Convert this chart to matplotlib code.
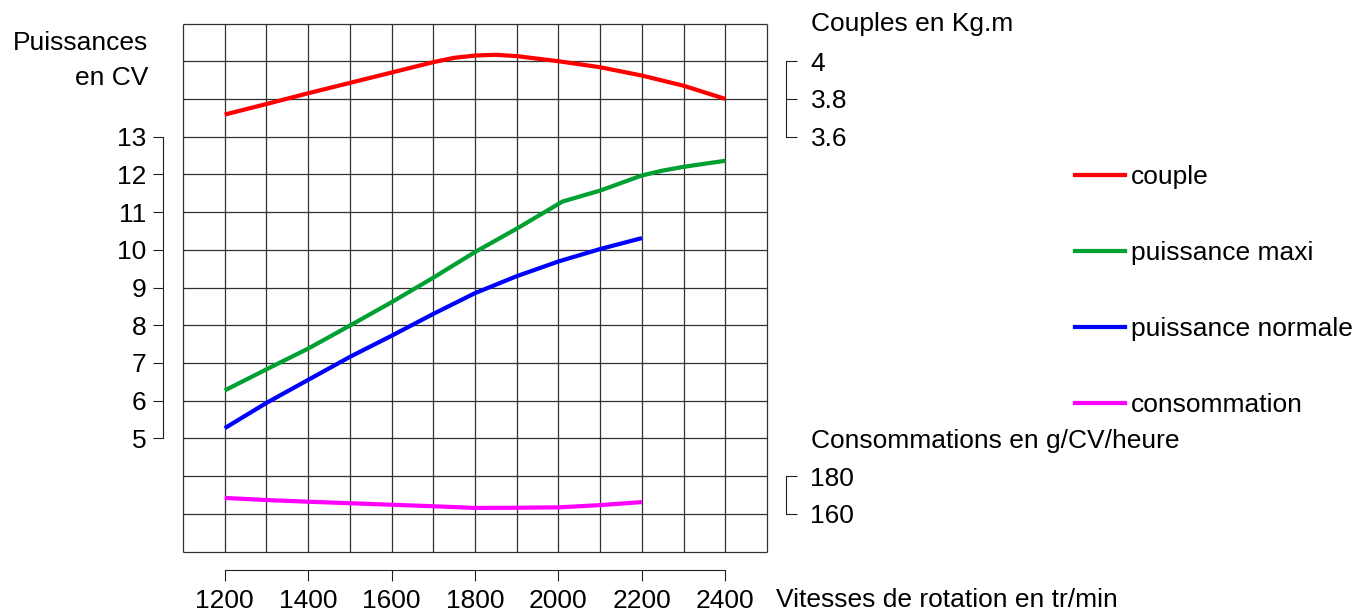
import matplotlib
matplotlib.use('Agg')
import matplotlib.pyplot as plt
from matplotlib.lines import Line2D
import numpy as np

plt.rcParams['font.family'] = ['Liberation Sans', 'DejaVu Sans']
plt.rcParams['font.size'] = 19

W, H = 1356, 612

# ── data ─────────────────────────────────────────────────────────────────────
rpm_couple = [1200, 1300, 1400, 1500, 1600, 1700, 1750, 1800, 1850, 1900, 2000, 2100, 2200, 2300, 2400]
couple     = [3.717, 3.773, 3.83, 3.885, 3.94, 3.995, 4.018, 4.03, 4.034, 4.027, 4.00, 3.968, 3.924, 3.87, 3.80]

rpm_maxi   = [1200, 1300, 1400, 1500, 1600, 1700, 1800, 1900, 2010, 2100, 2200, 2250, 2300, 2400]
p_maxi     = [6.27, 6.83, 7.38, 7.99, 8.61, 9.26, 9.94, 10.56, 11.28, 11.57, 11.97, 12.10, 12.20, 12.36]

rpm_norm   = [1200, 1300, 1400, 1500, 1600, 1700, 1800, 1900, 2000, 2100, 2200]
p_norm     = [5.27, 5.94, 6.55, 7.16, 7.72, 8.30, 8.85, 9.30, 9.69, 10.02, 10.31]

rpm_conso  = [1200, 1300, 1400, 1500, 1600, 1700, 1800, 1900, 2000, 2100, 2200]
conso      = [168.4, 167.3, 166.4, 165.6, 164.8, 164.0, 163.1, 163.2, 163.4, 164.6, 166.2]

x_ticks      = [1200, 1400, 1600, 1800, 2000, 2200, 2400]
p_ticks      = [5, 6, 7, 8, 9, 10, 11, 12, 13]
couple_ticks = [3.6, 3.8, 4.0]
couple_lbls  = ['3.6', '3.8', '4']
conso_ticks  = [160, 180]

labels = ['couple', 'puissance maxi', 'puissance normale', 'consommation']
colors = ['#ff0000', '#00a032', '#0000ff', '#ff00ff']

# grid frame in data units: power 2..16, rpm 1100..2500
P_MIN, P_MAX = 2, 16
X_MIN, X_MAX = 1100, 2500


def px(v):
    """pixels -> points (dpi 100)"""
    return v * 0.72


fig = plt.figure(figsize=(W / 100, H / 100), dpi=100, facecolor='white')
ax = fig.add_axes([183 / W, (H - 551.5) / H, 584 / W, 528 / H])
ax.set_xlim(X_MIN, X_MAX)
ax.set_ylim(P_MIN, P_MAX)

# grid
ax.vlines(np.arange(X_MIN, X_MAX + 1, 100), P_MIN, P_MAX, color='#303030', lw=0.9,
          zorder=1, clip_on=False)
ax.hlines(np.arange(P_MIN, P_MAX + 1, 1), X_MIN, X_MAX, color='#303030', lw=0.9,
          zorder=1, clip_on=False)

for s in ('top', 'right'):
    ax.spines[s].set_visible(False)
ax.spines['left'].set_position(('outward', px(20)))
ax.spines['left'].set_bounds(5, 13)
ax.spines['bottom'].set_position(('outward', px(18)))
ax.spines['bottom'].set_bounds(1200, 2400)
for s in ('left', 'bottom'):
    ax.spines[s].set_linewidth(0.8)
    ax.spines[s].set_color('#202020')
ax.set_yticks(p_ticks)
ax.set_xticks(x_ticks)
ax.tick_params(axis='y', length=px(10.5), width=0.8, pad=px(6), color='#202020')
ax.tick_params(axis='x', length=px(11), width=0.8, pad=px(9), color='#202020')

ax.plot(rpm_maxi, p_maxi, color=colors[1], lw=px(4.2), zorder=3, solid_capstyle='butt')
ax.plot(rpm_norm, p_norm, color=colors[2], lw=px(4.2), zorder=3, solid_capstyle='butt')

# couple axis: 3.6 <-> P13, 0.2 per unit
ax_c = ax.twinx()
ax_c.set_ylim(3.6 + (P_MIN - 13) * 0.2, 3.6 + (P_MAX - 13) * 0.2)
ax_c.plot(rpm_couple, couple, color=colors[0], lw=px(4.2), zorder=3, solid_capstyle='butt')

# consumption axis: 160 <-> P3, 20 per unit
ax_k = ax.twinx()
ax_k.set_ylim(160 + (P_MIN - 3) * 20, 160 + (P_MAX - 3) * 20)
ax_k.plot(rpm_conso, conso, color=colors[3], lw=px(4.2), zorder=3, solid_capstyle='butt')

for a, ticks, bounds in ((ax_c, couple_ticks, (3.6, 4.0)), (ax_k, conso_ticks, (160, 180))):
    for s in ('top', 'left', 'bottom'):
        a.spines[s].set_visible(False)
    a.spines['right'].set_position(('outward', px(19)))
    a.spines['right'].set_bounds(*bounds)
    a.spines['right'].set_linewidth(0.8)
    a.spines['right'].set_color('#202020')
    a.set_yticks(ticks)
    a.tick_params(axis='y', length=px(11), width=0.8, pad=px(13.5), color='#202020')
    a.patch.set_visible(False)
ax_c.set_yticklabels(couple_lbls)

# axis titles
def ftext(x, y, s, **kw):
    fig.text(x / W, 1 - y / H, s, va='center', **kw)

ftext(148, 43, 'Puissances', ha='right')
ftext(148, 78, 'en CV', ha='right')
ftext(811, 24, 'Couples en Kg.m', ha='left')
ftext(811, 441, 'Consommations en g/CV/heure', ha='left')
ftext(776, 600, 'Vitesses de rotation en tr/min', ha='left')

# legend
handles = [Line2D([], [], color=c, lw=px(4.2)) for c in colors]
fig.legend(handles, labels, loc='upper left', bbox_to_anchor=(1075 / W, 1 - 165 / H),
           frameon=False, borderpad=0, borderaxespad=0, handlelength=1.9,
           handletextpad=0.22, labelspacing=1.97, fontsize=19)

fig.savefig('out.png', dpi=100, facecolor='white')
